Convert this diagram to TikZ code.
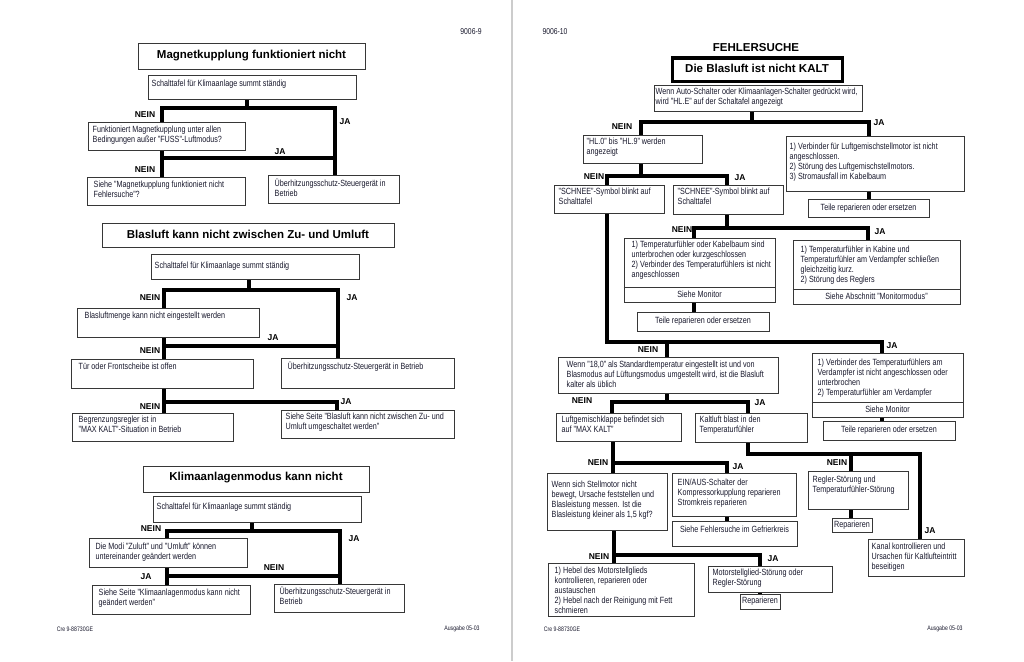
\documentclass[tikz,border=0pt]{standalone}
\usepackage{fontspec}
\setmainfont{Liberation Sans}[FakeStretch=0.8]
\newfontfamily\titlefont{Liberation Sans}
\usetikzlibrary{fit,backgrounds}
\definecolor{tc}{RGB}{25,25,45}
\definecolor{bc}{RGB}{55,55,55}
\tikzset{
 box/.style={draw=bc, line width=1pt, fill=white, inner sep=0pt},
 thickbox/.style={draw=black, line width=3pt, fill=white, inner sep=0pt},
 conn/.style={line width=3.6pt, draw=black, line cap=rect},
 txt/.style={font=\fontsize{9}{10}\selectfont, text=tc, align=left, inner sep=0pt, anchor=north west},
 ctxt/.style={font=\fontsize{9}{10}\selectfont, text=tc, align=center, inner sep=0pt},
 ttl/.style={font=\titlefont\bfseries\fontsize{11.5}{13}\selectfont, text=black, inner sep=0pt},
 lab/.style={font=\titlefont\bfseries\fontsize{8.5}{10}\selectfont, inner sep=0pt, text=black},
 pnum/.style={font=\fontsize{8.5}{10}\selectfont, inner sep=0pt, text=tc},
 foot/.style={font=\fontsize{6.5}{8}\selectfont, inner sep=0pt, text=tc},
}
\newcommand\bx[5][6,4]{\node[box, fit={(#3) (#4)}] (#2) {};
  \node[txt] (#2t) at ([shift={(#1)}]#2.north west) {#5};}
\newcommand\tbx[4]{\node[box, fit={(#2) (#3)}] (#1) {};
  \node[ttl] (#1t) at ([yshift=1pt]#1.center) {#4};}
\newcommand\cbx[4]{\node[box, fit={(#2) (#3)}] (#1) {};
  \node[ctxt] (#1t) at (#1.center) {#4};}
\begin{document}
\begin{tikzpicture}[x=1pt,y=-1pt]
\useasboundingbox (0,0) rectangle (1024,661);
% ---------------- LEFT PAGE ----------------
\node[pnum] (pn1) at (471,32) {9006-9};
% Section 1
\tbx{T1}{138,44}{365,69}{Magnetkupplung funktioniert nicht}
\bx[4,5]{A1}{148,75}{356,99}{Schalttafel für Klimaanlage summt ständig}
\bx[5,4]{A2}{88,122}{245,150}{Funktioniert Magnetkupplung unter allen\\Bedingungen außer "FUSS"-Luftmodus?}
\bx[7,4]{A3}{87,177}{245,205}{Siehe "Magnetkupplung funktioniert nicht\\Fehlersuche"?}
\bx[7,4]{A4}{268,175}{399,203}{Überhitzungsschutz-Steuergerät in\\Betrieb}
\node[lab] (la1) at (145,115) {NEIN};
\node[lab] (la2) at (345,122) {JA};
\node[lab] (la3) at (280,152) {JA};
\node[lab] (la4) at (145,170) {NEIN};
% Section 2
\tbx{T2}{102,223}{394,247}{Blasluft kann nicht zwischen Zu- und Umluft}
\bx[4,8]{B1}{151,254}{359,279}{Schalttafel für Klimaanlage summt ständig}
\bx[8,4]{B2}{77,308}{259,337}{Blasluftmenge kann nicht eingestellt werden}
\bx[8,4]{B3}{71,359}{253,388}{Tür oder Frontscheibe ist offen}
\bx[7,4]{B4}{281,358}{454,388}{Überhitzungsschutz-Steuergerät in Betrieb}
\bx[7,3]{B5}{72,413}{233,441}{Begrenzungsregler ist in\\"MAX KALT"-Situation in Betrieb}
\bx[5,3]{B6}{281,410}{454,438}{Siehe Seite "Blasluft kann nicht zwischen Zu- und\\Umluft umgeschaltet werden"}
\node[lab] (lb1) at (150,298) {NEIN};
\node[lab] (lb2) at (352,298) {JA};
\node[lab] (lb3) at (273,338) {JA};
\node[lab] (lb4) at (150,351) {NEIN};
\node[lab] (lb5) at (150,407) {NEIN};
\node[lab] (lb6) at (346,402) {JA};
% Section 3
\tbx{T3}{143,466}{369,492}{Klimaanlagenmodus kann nicht}
\bx[4,7]{C1}{153,496}{361,522}{Schalttafel für Klimaanlage summt ständig}
\bx[7,5]{C2}{89,538}{247,567}{Die Modi "Zuluft" und "Umluft" können\\untereinander geändert werden}
\bx[7,4]{C3}{92,585}{250,614}{Siehe Seite "Klimaanlagenmodus kann nicht\\geändert werden"}
\bx[6,3]{C4}{274,584}{404,612}{Überhitzungsschutz-Steuergerät in\\Betrieb}
\node[lab] (lc1) at (151,529) {NEIN};
\node[lab] (lc2) at (354,539) {JA};
\node[lab] (lc3) at (274,568) {NEIN};
\node[lab] (lc4) at (146,577) {JA};
\node[foot] (f1) at (75,629) {Cre 9-88730GE};
\node[foot] (f2) at (462,629) {Ausgabe 05-03};
% ---------------- RIGHT PAGE ----------------
\node[pnum] (pn2) at (555,32) {9006-10};
\node[ttl] (FS) at (756,48) {FEHLERSUCHE};
\node[thickbox, fit={(672,58) (842,81)}] (T4) {};
\node[ttl] (T4t) at ([yshift=1pt]T4.center) {Die Blasluft ist nicht KALT};
\bx[2,3]{D1}{654,85}{862,111}{Wenn Auto-Schalter oder Klimaanlagen-Schalter gedrückt wird,\\wird "HL.E" auf der Schaltafel angezeigt}
\bx[4,3]{D2}{583,135}{702,163}{"HL.0" bis "HL.9" werden\\angezeigt}
\bx[4,7]{D3}{786,136}{964,191}{1) Verbinder für Luftgemischstellmotor ist nicht\\angeschlossen.\\2) Störung des Luftgemischstellmotors.\\3) Stromausfall im Kabelbaum}
\cbx{D4}{808,199}{929,217}{Teile reparieren oder ersetzen}
\bx[5,3]{D5}{554,185}{664,213}{"SCHNEE"-Symbol blinkt auf\\Schalttafel}
\bx[5,3]{D6}{673,185}{783,214}{"SCHNEE"-Symbol blinkt auf\\Schalttafel}
\bx[8,3]{D7}{624,238}{775,302}{1) Temperaturfühler oder Kabelbaum sind\\unterbrochen oder kurzgeschlossen\\2) Verbinder des Temperaturfühlers ist nicht\\angeschlossen}
\draw[bc, line width=1pt] (D7.west |- 0,287) -- (D7.east |- 0,287);
\node[ctxt] (D7m) at (699.5,294.5) {Siehe Monitor};
\bx[8,6]{D8}{793,240}{960,304}{1) Temperaturfühler in Kabine und\\Temperaturfühler am Verdampfer schließen\\gleichzeitig kurz.\\2) Störung des Reglers}
\draw[bc, line width=1pt] (D8.west |- 0,289) -- (D8.east |- 0,289);
\node[ctxt] (D8m) at (876.5,296.5) {Siehe Abschnitt "Monitormodus"};
\cbx{D9}{637,312}{769,331}{Teile reparieren oder ersetzen}
\bx[9,4]{E1}{558,357}{778,393}{Wenn "18,0" als Standardtemperatur eingestellt ist und von\\Blasmodus auf Lüftungsmodus umgestellt wird, ist die Blasluft\\kalter als üblich}
\bx[6,6]{E2}{812,353}{963,417}{1) Verbinder des Temperaturfühlers am\\Verdampfer ist nicht angeschlossen oder\\unterbrochen\\2) Temperaturfühler am Verdampfer}
\draw[bc, line width=1pt] (E2.west |- 0,402) -- (E2.east |- 0,402);
\node[ctxt] (E2m) at (887.5,409.5) {Siehe Monitor};
\cbx{E3}{823,421}{955,440}{Teile reparieren oder ersetzen}
\bx[6,3]{E4}{556,413}{681,441}{Luftgemischklappe befindet sich\\auf "MAX KALT"}
\bx[5,3]{E5}{695,413}{807,442}{Kaltluft blast in den\\Temperaturfühler}
\bx[5,8]{F1}{547,473}{667,530}{Wenn sich Stellmotor nicht\\bewegt, Ursache feststellen und\\Blasleistung messen. Ist die\\Blasleistung kleiner als 1,5 kgf?}
\bx[6,6]{F2}{672,473}{796,516}{EIN/AUS-Schalter der\\Kompressorkupplung reparieren\\Stromkreis reparieren}
\node[box, fit={(672,521) (797,546)}] (F2b) {};
\node[ctxt] (F2bt) at (734.5,529) {Siehe Fehlersuche im Gefrierkreis};
\bx[5,5]{F3}{808,471}{908,509}{Regler-Störung und\\Temperaturfühler-Störung}
\cbx{F4}{832,518}{872,532}{Reparieren}
\bx[4,4]{F5}{868,539}{964,576}{Kanal kontrollieren und\\Ursachen für Kaltlufteintritt\\beseitigen}
\bx[7,4]{F6}{548,563}{694,616}{1) Hebel des Motorstellglieds\\kontrollieren, reparieren oder\\austauschen\\2) Hebel nach der Reinigung mit Fett\\schmieren}
\bx[5,3]{F7}{708,566}{832,592}{Motorstellglied-Störung oder\\Regler-Störung}
\cbx{F8}{740,594}{780,609}{Reparieren}
% labels right
\node[lab] (ld1) at (622,127) {NEIN};
\node[lab] (ld2) at (879,123) {JA};
\node[lab] (ld3) at (594,177) {NEIN};
\node[lab] (ld4) at (740,178) {JA};
\node[lab] (ld5) at (682,230) {NEIN};
\node[lab] (ld6) at (880,232) {JA};
\node[lab] (le1) at (648,350) {NEIN};
\node[lab] (le2) at (892,346) {JA};
\node[lab] (le3) at (582,401) {NEIN};
\node[lab] (le4) at (760,403) {JA};
\node[lab] (lf1) at (598,463) {NEIN};
\node[lab] (lf2) at (738,467) {JA};
\node[lab] (lf3) at (837,463) {NEIN};
\node[lab] (lf4) at (930,531) {JA};
\node[lab] (lf5) at (599,557) {NEIN};
\node[lab] (lf6) at (773,559) {JA};
\node[foot] (f3) at (562,629) {Cre 9-88730GE};
\node[foot] (f4) at (945,629) {Ausgabe 05-03};
% ---------------- junction coordinates ----------------
\coordinate (a1) at (247,108); \coordinate (a1l) at (162,108); \coordinate (a1r) at (335,108);
\coordinate (a2l) at (162,158); \coordinate (a2r) at (335,158);
\coordinate (b1) at (249,290); \coordinate (b1l) at (164,290); \coordinate (b1r) at (338,290);
\coordinate (b2l) at (164,346); \coordinate (b2r) at (338,346);
\coordinate (b3l) at (164,402); \coordinate (b3r) at (337,402);
\coordinate (c1) at (252,531); \coordinate (c1l) at (167,531); \coordinate (c1r) at (340,531);
\coordinate (c2l) at (167,576); \coordinate (c2r) at (340,576);
\coordinate (d1) at (752,122); \coordinate (d1l) at (641,122); \coordinate (d1r) at (869,122);
\coordinate (d2) at (641,176); \coordinate (d2l) at (607,176); \coordinate (d2r) at (727,176);
\coordinate (e0l) at (607,342); \coordinate (e0r) at (882,342); \coordinate (e0) at (667,342);
\coordinate (d3) at (727,228); \coordinate (d3l) at (694,228); \coordinate (d3r) at (868,228);
\coordinate (e1) at (667,402); \coordinate (e1l) at (612,402); \coordinate (e1r) at (748,402);
\coordinate (f0) at (748,454); \coordinate (f0m) at (851,454); \coordinate (f0r) at (920,454);
\coordinate (f1l) at (613,463); \coordinate (f1r) at (727,463);
\coordinate (f2l) at (614,555); \coordinate (f2r) at (760,555);
\coordinate (dvt) at (512,0); \coordinate (dvb) at (512,661);
\begin{scope}[on background layer]
\fill[white] (0,0) rectangle (1024,661);
\draw[black!20, line width=2pt] (dvt) -- (dvb);
% section 1
\draw[conn] (a1 |- A1.south) -- (a1);
\draw[conn] (a1l) -- (a1r);
\draw[conn] (a1l) -- (a1l |- A2.north);
\draw[conn] (a1r) -- (a1r |- A4.north);
\draw[conn] (a1l |- A2.south) -- (a1l |- A3.north);
\draw[conn] (a2l) -- (a2r);
% section 2
\draw[conn] (b1 |- B1.south) -- (b1);
\draw[conn] (b1l) -- (b1r);
\draw[conn] (b1l) -- (b1l |- B2.north);
\draw[conn] (b1r) -- (b1r |- B4.north);
\draw[conn] (b1l |- B2.south) -- (b1l |- B3.north);
\draw[conn] (b2l) -- (b2r);
\draw[conn] (b1l |- B3.south) -- (b1l |- B5.north);
\draw[conn] (b3l) -- (b3r);
\draw[conn] (b3r) -- (b3r |- B6.north);
% section 3
\draw[conn] (c1 |- C1.south) -- (c1);
\draw[conn] (c1l) -- (c1r);
\draw[conn] (c1l) -- (c1l |- C2.north);
\draw[conn] (c1r) -- (c1r |- C4.north);
\draw[conn] (c1l |- C2.south) -- (c1l |- C3.north);
\draw[conn] (c2l) -- (c2r);
% right page
\draw[conn] (d1 |- D1.south) -- (d1);
\draw[conn] (d1l) -- (d1r);
\draw[conn] (d1l) -- (d1l |- D2.north);
\draw[conn] (d1r) -- (d1r |- D3.north);
\draw[conn] (d1r |- D3.south) -- (d1r |- D4.north);
\draw[conn] (d2 |- D2.south) -- (d2);
\draw[conn] (d2l) -- (d2r);
\draw[conn] (d2l) -- (d2l |- D5.north);
\draw[conn] (d2r) -- (d2r |- D6.north);
\draw[conn] (d2l |- D5.south) -- (e0l);
\draw[conn] (e0l) -- (e0r);
\draw[conn] (e0r) -- (e0r |- E2.north);
\draw[conn] (e0) -- (e0 |- E1.north);
\draw[conn] (d3 |- D6.south) -- (d3);
\draw[conn] (d3l) -- (d3r);
\draw[conn] (d3l) -- (d3l |- D7.north);
\draw[conn] (d3r) -- (d3r |- D8.north);
\draw[conn] (d3l |- D7.south) -- (d3l |- D9.north);
\draw[conn] (e0r |- E2.south) -- (e0r |- E3.north);
\draw[conn] (e1 |- E1.south) -- (e1);
\draw[conn] (e1l) -- (e1r);
\draw[conn] (e1l) -- (e1l |- E4.north);
\draw[conn] (e1r) -- (e1r |- E5.north);
\draw[conn] (e1r |- E5.south) -- (f0);
\draw[conn] (f0) -- (f0r);
\draw[conn] (f0m) -- (f0m |- F3.north);
\draw[conn] (f0r) -- (f0r |- F5.north);
\draw[conn] (f0m |- F3.south) -- (f0m |- F4.north);
\draw[conn] (f1l |- E4.south) -- (f1l |- F1.north);
\draw[conn] (f1l) -- (f1r);
\draw[conn] (f1r) -- (f1r |- F2.north);
\draw[conn] (f1r |- F2.south) -- (f1r |- F2b.north);
\draw[conn] (f2l |- F1.south) -- (f2l |- F6.north);
\draw[conn] (f2l) -- (f2r);
\draw[conn] (f2r) -- (f2r |- F7.north);
\draw[conn] (f2r |- F7.south) -- (f2r |- F8.north);
\end{scope}
\end{tikzpicture}
\end{document}
